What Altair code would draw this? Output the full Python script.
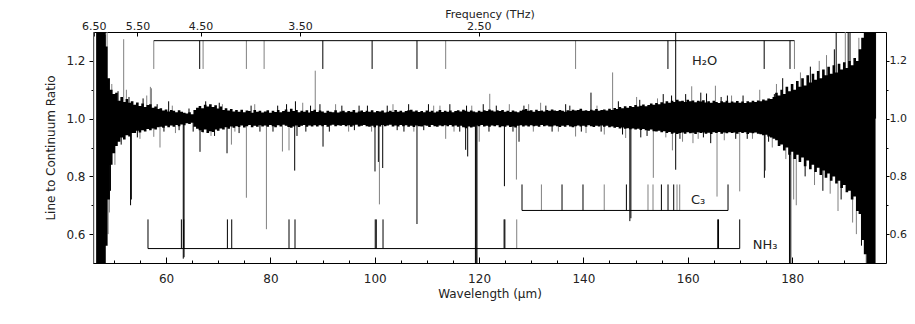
import altair as alt
import pandas as pd

# ---------------- data ----------------
continuum = 1.0

# noise band of the spectrum: saturated start, then samples every 0.5 um from 49.0 to 196.0
env_start_wl = [46.6, 48.3, 48.6]
env_start_lo = [0.50, 0.50, 0.56]
env_start_hi = [1.30, 1.30, 1.25]
env_step_first = 49.0
env_step = 0.5
# upper / lower half-widths of the band, in thousandths of the continuum
env_hi_dev = [
    140, 100, 85, 90, 62, 75, 58, 68, 55, 60,
    48, 56, 44, 52, 40, 47, 50, 38, 42, 33,
    36, 28, 32, 25, 30, 27, 22, 29, 24, 20,
    18, 22, 15, 30, 38, 44, 36, 48, 42, 50,
    40, 46, 35, 42, 30, 36, 28, 33, 25, 30,
    24, 31, 22, 28, 26, 20, 30, 24, 27, 21,
    25, 29, 20, 27, 23, 30, 22, 26, 32, 24,
    34, 26, 30, 22, 27, 24, 29, 21, 26, 31,
    23, 28, 25, 20, 27, 24, 22, 29, 21, 25,
    27, 22, 26, 24, 30, 21, 25, 28, 23, 27,
    24, 29, 22, 26, 25, 28, 21, 24, 27, 23,
    30, 24, 27, 22, 26, 29, 31, 25, 28, 23,
    26, 22, 28, 24, 27, 21, 25, 30, 23, 27,
    24, 28, 22, 26, 29, 25, 31, 27, 24, 28,
    25, 22, 27, 24, 29, 26, 32, 28, 25, 29,
    26, 30, 24, 27, 23, 28, 25, 22, 27, 31,
    33, 27, 29, 24, 31, 26, 28, 25, 30, 27,
    32, 28, 26, 30, 27, 24, 29, 26, 31, 28,
    30, 34, 27, 29, 26, 31, 28, 33, 27, 30,
    32, 28, 34, 30, 37, 33, 40, 36, 43, 38,
    44, 40, 47, 42, 45, 49, 43, 47, 52, 48,
    54, 50, 57, 52, 60, 55, 62, 58, 65, 60,
    62, 58, 65, 60, 63, 57, 62, 59, 64, 56,
    60, 55, 62, 58, 54, 60, 57, 62, 55, 59,
    56, 61, 55, 59, 54, 60, 57, 62, 58, 63,
    60, 66, 63, 70, 68, 75, 90, 80, 100, 85,
    110, 95, 120, 100, 130, 110, 140, 115, 150, 125,
    155, 135, 165, 140, 170, 150, 180, 155, 185, 160,
    190, 170, 195, 175, 200, 185, 210, 200, 240, 280,
    300, 300, 300, 300, 300,
]
env_lo_dev = [
    280, 160, 120, 95, 80, 65, 72, 58, 62, 50,
    50, 42, 48, 40, 45, 36, 40, 34, 38, 30,
    28, 32, 25, 30, 24, 28, 22, 26, 20, 23,
    16, 19, 14, 28, 35, 40, 46, 38, 50, 44,
    46, 38, 42, 34, 38, 30, 35, 27, 32, 26,
    29, 24, 31, 26, 22, 30, 25, 28, 23, 27,
    24, 28, 22, 26, 30, 23, 27, 21, 25, 29,
    32, 27, 24, 29, 25, 22, 28, 24, 27, 23,
    27, 23, 26, 22, 28, 24, 21, 26, 23, 25,
    22, 26, 23, 28, 24, 21, 27, 25, 22, 26,
    28, 25, 30, 24, 27, 22, 26, 24, 21, 27,
    24, 27, 22, 26, 23, 28, 25, 29, 24, 26,
    27, 23, 25, 29, 22, 26, 28, 24, 26, 23,
    26, 22, 27, 24, 28, 25, 30, 33, 27, 31,
    28, 24, 26, 22, 27, 25, 28, 24, 26, 23,
    30, 26, 28, 24, 29, 27, 31, 25, 23, 27,
    24, 27, 23, 26, 25, 28, 22, 26, 24, 27,
    27, 24, 26, 29, 25, 28, 23, 27, 30, 26,
    24, 27, 25, 28, 23, 26, 29, 25, 27, 24,
    28, 25, 30, 27, 32, 29, 34, 31, 35, 33,
    37, 34, 38, 35, 39, 36, 40, 42, 38, 44,
    45, 42, 47, 44, 50, 46, 52, 49, 53, 50,
    48, 52, 47, 51, 49, 53, 47, 50, 48, 52,
    49, 53, 47, 50, 46, 52, 48, 51, 47, 50,
    48, 52, 46, 50, 47, 53, 49, 51, 48, 52,
    54, 58, 56, 62, 65, 70, 75, 95, 90, 110,
    100, 125, 115, 140, 125, 150, 135, 165, 145, 175,
    160, 185, 170, 195, 180, 205, 190, 215, 200, 225,
    215, 240, 230, 255, 250, 280, 270, 320, 330, 420,
    470, 500, 500, 500, 500,
]

# individual spikes / absorption dips, drawn from the continuum level to the value read
spike_wl = [46.15, 46.15, 48.4, 48.7, 48.9, 49.14, 49.35, 49.6, 50.2, 51.88, 52.4, 53.2, 53.35, 55.0,
            56.3, 57.0, 57.2, 57.65, 58.84, 60.5, 61.8, 63.3, 63.45, 66.51, 67.1, 68.62, 70.2, 71.69,
            72.53, 74.0, 75.4, 77.0, 79.24, 80.5, 82.31, 83.57, 84.66, 84.8, 85.1, 86.2, 88.6, 90.09,
            92.5, 95.0, 97.0, 100.05, 100.7, 100.9, 101.53, 103.5, 105.6, 108.1, 110.3, 112.5, 113.6,
            115.2, 117.43, 117.6, 117.82, 119.3, 119.45, 119.6, 120.03, 120.8, 122.05, 124.86, 127.16,
            127.66, 129.5, 131.8, 134.0, 136.6, 138.5, 140.5, 141.45, 144.0, 145.6, 148.1, 148.9, 149.1,
            150.2, 151.0, 153.4, 155.3, 157.06, 157.69, 157.69, 159.0, 160.76, 161.0, 162.5, 163.6,
            164.4, 165.3, 165.61, 167.0, 168.4, 169.96, 171.4, 173.8, 174.69, 174.9, 176.2, 177.0,
            178.2, 178.8, 179.5, 179.75, 180.3, 180.8, 181.6, 182.5, 183.5, 184.3, 185.2, 185.9, 186.6,
            187.3, 188.1, 188.45, 188.8, 189.4, 190.2, 190.75, 191.1, 191.6, 192.32, 192.8, 193.3,
            193.9, 194.2, 196.0,
            50.8, 51.4, 52.9, 54.5, 55.6, 58.3, 59.6, 61.2, 62.5, 64.4, 65.2, 67.6, 69.3, 70.8, 73.2,
            76.3, 78.0, 81.4, 83.1, 86.8, 87.7, 89.5, 91.3, 93.7, 96.1, 98.6, 99.4, 102.4, 104.3, 106.5,
            107.5, 109.4, 111.3, 114.4, 116.3, 118.6, 121.9, 123.3, 125.8, 126.5, 128.6, 130.4, 132.8,
            135.2, 137.4, 139.6, 142.6, 143.4, 146.7, 147.5, 150.8, 152.2, 154.2, 155.8, 156.9, 158.5,
            159.6, 162.0, 163.0, 166.4, 167.6, 169.2, 170.6, 172.4, 175.5, 176.6]
spike_end = [1.30, 0.50, 1.29, 1.30, 0.60, 0.675, 0.75, 1.12, 0.84, 1.275, 1.10, 0.70, 0.72, 0.93,
             1.08, 1.11, 1.105, 0.937, 0.90, 1.06, 0.95, 0.515, 0.52, 0.885, 0.95, 0.94, 1.055, 0.88,
             0.91, 0.95, 0.726, 1.05, 0.617, 0.955, 0.886, 0.89, 0.82, 1.06, 0.94, 1.055, 1.166, 0.903,
             1.05, 0.955, 1.045, 0.817, 0.85, 0.703, 0.829, 1.05, 0.955, 0.635, 1.05, 1.045, 0.93,
             0.955, 0.892, 1.045, 0.869, 0.50, 0.50, 0.50, 0.92, 1.05, 1.086, 0.766, 0.789,
             0.92, 1.05, 1.055, 0.955, 1.05, 0.938, 0.95, 1.09, 0.945, 1.16, 0.933, 0.645, 0.655,
             1.075, 0.935, 0.795, 1.085, 0.89, 1.30, 0.823, 0.92, 1.112, 0.915, 1.09, 1.087,
             0.915, 1.114, 0.73, 0.925, 1.08, 0.748, 0.93, 1.10, 0.795, 0.82, 0.90, 1.12,
             1.14, 0.86, 0.50, 0.50, 0.72, 0.70, 1.16, 0.80, 1.18, 0.77, 1.20, 0.75, 1.22,
             0.74, 1.24, 1.30, 0.68, 0.72, 1.30, 1.30, 1.30, 0.64, 0.60, 1.28, 0.56,
             1.30, 0.50, 1.30,
             1.095, 0.91, 1.075, 0.935, 1.07, 1.05, 0.955, 1.045, 0.96, 1.035, 0.955, 1.06, 0.94, 1.05, 0.955,
             1.045, 0.955, 1.045, 1.05, 0.955, 1.045, 1.05, 0.955, 1.045, 0.96, 1.045, 0.955, 1.045, 0.96, 1.05,
             0.955, 0.96, 1.045, 1.05, 0.955, 1.045, 0.955, 1.045, 1.05, 0.955, 1.045, 0.955, 1.045,
             0.955, 1.045, 0.955, 1.045, 0.955, 1.06, 0.945, 1.065, 0.94, 1.07, 0.935, 1.08, 0.93,
             1.085, 0.93, 0.935, 1.075, 1.08, 0.93, 1.08, 0.93, 0.92, 1.085]
spike_src = ["g", "g", "g", "g", "g", "g", "b", "g", "g", "g", "g", "b", "b", "g",
             "g", "g", "g", "g", "g", "b", "g", "b", "b", "b", "g", "g", "b", "b",
             "g", "b", "g", "g", "g", "b", "g", "g", "b", "b", "b", "g", "g", "b",
             "g", "g", "b", "b", "b", "g", "b", "g", "b", "b", "b", "g", "g",
             "g", "b", "b", "b", "b", "b", "b", "g", "b", "g", "b", "g",
             "b", "g", "g", "b", "b", "g", "g", "b", "g", "g", "g", "b", "b",
             "g", "b", "g", "b", "g", "b", "b", "g", "g", "g", "b", "b",
             "b", "g", "g", "g", "g", "g", "b", "g", "b", "g", "g", "g",
             "b", "g", "b", "b", "g", "g", "g", "b", "b", "g", "g", "b", "g",
             "g", "b", "b", "g", "b", "g", "b", "b", "g", "g", "g", "b",
             "g", "g", "b",
             "b", "b", "b", "b", "b", "b", "b", "g", "b", "b", "b", "b", "b", "g", "g",
             "b", "b", "b", "b", "b", "b", "b", "b", "b", "b", "b", "g", "b", "b", "b",
             "g", "b", "g", "b", "b", "g", "b", "b", "g", "b", "b", "g", "b",
             "g", "b", "b", "g", "b", "b", "b", "b", "b", "g", "g", "b", "b",
             "b", "g", "b", "b", "b", "b", "b", "g", "b", "b"]

# line identifications
h2o_wl = [57.65, 66.45, 67.1, 75.4, 78.8, 90.05, 99.5, 108.1, 113.6, 138.5, 156.2, 174.65, 179.6, 180.45]
h2o_src = ["g", "b", "g", "g", "g", "b", "b", "b", "g", "g", "b", "b", "b", "g"]
h2o_bar, h2o_tip = 1.27, 1.172

c3_wl = [128.23, 131.95, 135.9, 139.92, 143.99, 148.24, 152.38, 153.34, 154.95, 156.22, 157.31, 157.94,
         158.46, 167.72]
c3_src = ["b", "g", "b", "b", "g", "b", "g", "g", "b", "b", "b", "g", "g", "b"]
c3_bar, c3_tip = 0.682, 0.772

nh3_wl = [56.54, 62.94, 63.39, 71.76, 72.59, 83.57, 84.72, 100.1, 100.3, 101.59, 124.8, 124.95, 127.22,
          165.75, 165.9, 169.96]
nh3_src = ["b", "b", "b", "b", "b", "b", "b", "b", "b", "b", "b", "b", "g", "b", "b", "b"]
nh3_bar, nh3_tip = 0.55, 0.651

label_text = ["H₂O", "C₃", "NH₃"]
label_wl = [160.8, 160.6, 172.45]
label_val = [1.187, 0.704, 0.55]

# axis ticks
wl_major = [60, 80, 100, 120, 140, 160, 180]
wl_minor = [50, 55, 60, 65, 70, 75, 80, 85, 90, 95, 100, 105, 110, 115, 120, 125, 130, 135, 140, 145,
            150, 155, 160, 165, 170, 175, 180, 185, 190, 195]
freq_ticks = [6.5, 5.5, 4.5, 3.5, 2.5]
ratio_major = [0.6, 0.8, 1.0, 1.2]
ratio_minor = [0.7, 0.9, 1.1]
C_UM_THZ = 299.792458

# ---------------- tables ----------------
grid_wl = [env_step_first + env_step * i for i in range(len(env_hi_dev))]
env_df = pd.DataFrame({
    "wl": env_start_wl + grid_wl,
    "lo": env_start_lo + [continuum - d / 1000 for d in env_lo_dev],
    "hi": env_start_hi + [continuum + d / 1000 for d in env_hi_dev],
})
spike_df = pd.DataFrame({"wl": spike_wl, "end": spike_end, "src": spike_src})
spike_df["base"] = continuum

tick_rows = []
for wl, s in zip(h2o_wl, h2o_src):
    tick_rows.append({"wl": wl, "y1": h2o_bar, "y2": h2o_tip, "src": s})
for wl, s in zip(c3_wl, c3_src):
    tick_rows.append({"wl": wl, "y1": c3_bar, "y2": c3_tip, "src": s})
for wl, s in zip(nh3_wl, nh3_src):
    tick_rows.append({"wl": wl, "y1": nh3_bar, "y2": nh3_tip, "src": s})
tick_df = pd.DataFrame(tick_rows)

bar_df = pd.DataFrame({
    "start": [min(h2o_wl), min(c3_wl), min(nh3_wl)],
    "end": [max(h2o_wl), max(c3_wl), max(nh3_wl)],
    "level": [h2o_bar, c3_bar, nh3_bar],
})
lab_df = pd.DataFrame({"txt": label_text, "wl": label_wl, "val": label_val})

# ---------------- chart ----------------
FONT = "DejaVu Sans"
xs = alt.Scale(domain=[46, 198], nice=False, zero=False)
ys = alt.Scale(domain=[0.5, 1.3], nice=False, zero=False)
cs = alt.Scale(domain=["b", "g"], range=["#000000", "#808080"])


def ax(**kw):
    base = dict(grid=False, domain=False, labelFont=FONT, labelFontSize=12, labelColor="#222222",
                titleFont=FONT, titleFontSize=12, titleFontWeight="normal", titleColor="#222222",
                tickColor="#000000", tickWidth=1, labelFlush=False, labelOverlap=False)
    base.update(kw)
    return alt.Axis(**base)


spikes = alt.Chart(spike_df).mark_rule(strokeWidth=1, clip=True).encode(
    x=alt.X("wl:Q", scale=xs,
            axis=ax(orient="bottom", values=wl_minor, offset=-3, tickSize=3, labels=False, title=None)),
    y=alt.Y("base:Q", scale=ys,
            axis=ax(orient="right", values=ratio_major, format=".1f", tickSize=3, labelPadding=0,
                    labelFontSize=11, title=None)),
    y2="end:Q",
    color=alt.Color("src:N", scale=cs, legend=None),
)

band = alt.Chart(env_df).mark_area(color="#000000", clip=True, interpolate="step").encode(
    x=alt.X("wl:Q", scale=xs,
            axis=ax(orient="bottom", values=wl_major, format="d", offset=-6, tickSize=6, labelPadding=10,
                    title="Wavelength (µm)", titlePadding=4)),
    y=alt.Y("lo:Q", scale=ys,
            axis=ax(orient="left", values=ratio_major, format=".1f", tickSize=4, labelPadding=4,
                    title="Line to Continuum Ratio", titlePadding=8)),
    y2="hi:Q",
)

ticks = alt.Chart(tick_df).mark_rule(strokeWidth=1, clip=True).encode(
    x=alt.X("wl:Q", scale=xs,
            axis=ax(orient="top", values=[C_UM_THZ / f for f in freq_ticks],
                    labelExpr="format(299.792458 / datum.value, '.2f')", labelFontSize=11,
                    offset=-4, tickSize=4, labelPadding=1, title="Frequency (THz)", titleFontSize=11,
                    titleBaseline="alphabetic", titleY=-18.5)),
    y=alt.Y("y1:Q", scale=ys,
            axis=ax(orient="left", values=ratio_minor, tickSize=2, labels=False, title=None)),
    y2="y2:Q",
    color=alt.Color("src:N", scale=cs, legend=None),
)

bars = alt.Chart(bar_df).mark_rule(color="#000000", strokeWidth=1).encode(
    x=alt.X("start:Q", scale=xs, axis=None),
    x2="end:Q",
    y=alt.Y("level:Q", scale=ys,
            axis=ax(orient="right", values=ratio_minor, tickSize=2, labels=False, title=None)),
)

labels = alt.Chart(lab_df).mark_text(align="left", baseline="alphabetic", font=FONT, fontSize=13,
                                      color="#222222").encode(
    x=alt.X("wl:Q", scale=xs, axis=None),
    y=alt.Y("val:Q", scale=ys, axis=None),
    text="txt:N",
)

chart = (
    alt.layer(spikes, band, ticks, bars, labels)
    .resolve_axis(x="independent", y="independent")
    .properties(width=793, height=231, autosize=alt.AutoSizeParams(type="none"),
                padding={"left": 85, "top": 24, "right": 21, "bottom": 50}, background="white")
    .configure_view(stroke="#000000", strokeWidth=1)
)

chart.save("out.html", embed_options={"renderer": "svg", "actions": False})
